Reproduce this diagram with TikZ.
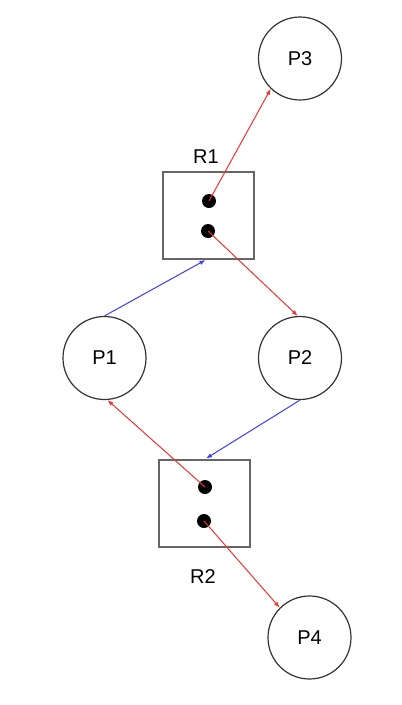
\documentclass[tikz,border=0pt]{standalone}
\usepackage{fontspec}
\setmainfont{Liberation Sans}
\usetikzlibrary{arrows.meta}
\definecolor{lred}{RGB}{240,50,50}
\definecolor{lblue}{RGB}{60,60,245}
\begin{document}
\begin{tikzpicture}[x=1pt,y=-1pt,
  proc/.style={circle,draw=black!80,line width=1.2pt,minimum size=83pt,inner sep=0pt,font=\fontsize{20}{23}\selectfont},
  res/.style={rectangle,draw=black!60,line width=2pt,minimum width=91pt,minimum height=87pt,inner sep=0pt},
  dot/.style={circle,fill=black,minimum size=14pt,inner sep=0pt},
  lbl/.style={font=\fontsize{20}{23}\selectfont,inner sep=0pt},
  redarr/.style={draw=lred,line width=1pt,-{Latex[length=6pt,width=4.5pt]}},
  bluearr/.style={draw=lblue,line width=1pt,-{Latex[length=6pt,width=4.5pt]}}]
\useasboundingbox (0,0) rectangle (402,705);
\node[proc] (P3) at (300,58.5) {P3};
\node[proc] (P1) at (104.5,358) {P1};
\node[proc] (P2) at (300,358) {P2};
\node[proc] (P4) at (309.5,637.5) {P4};
\node[res] (R1) at (208.5,215.5) {};
\node[res] (R2) at (204.5,503) {};
\node[lbl] (L1) at (206,157) {R1};
\node[lbl] (L2) at (203,577) {R2};
\node[dot] (a1) at (209,201) {};
\node[dot] (a2) at (208,231) {};
\node[dot] (b1) at (205,487) {};
\node[dot] (b2) at (204,521) {};
\draw[redarr] (a1.center) -- (P3.226);
\draw[redarr] (a2.center) -- (P2.93);
\draw[bluearr] (P1.north) -- ([xshift=-3pt]R1.south);
\draw[bluearr] (P2.south) -- ([xshift=1.5pt]R2.north);
\draw[redarr] (b1.center) -- (P1.274);
\draw[redarr] (b2.center) -- (P4.135);
\end{tikzpicture}
\end{document}
